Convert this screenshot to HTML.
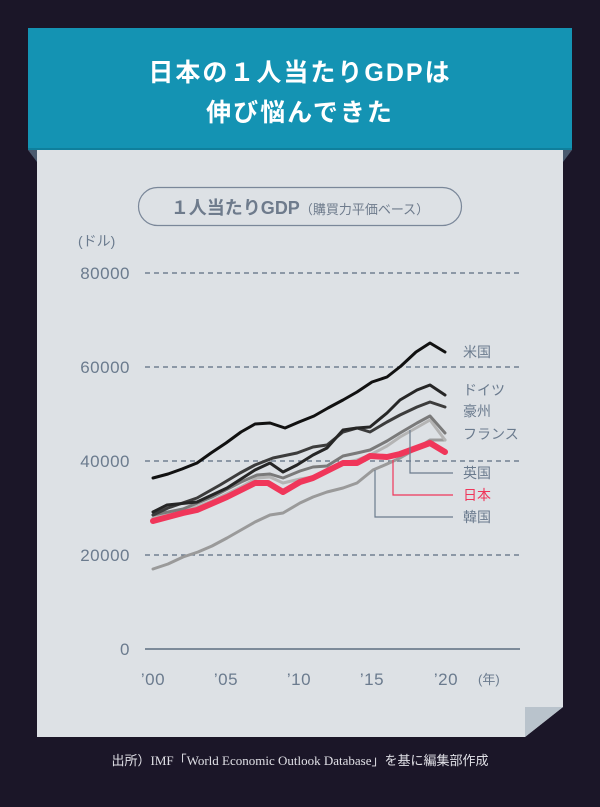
<!DOCTYPE html>
<html><head><meta charset="utf-8"><style>
body{margin:0;background:#1b1628;}
svg text{font-family:"Liberation Sans","Noto Sans CJK JP",sans-serif;}
</style></head><body>
<svg width="600" height="802" viewBox="0 0 600 802" xmlns="http://www.w3.org/2000/svg">
<rect width="600" height="802" fill="#1b1628"/>
<polygon points="28,150 37,150 37,162" fill="#4a5a6e"/>
<polygon points="572,150 563,150 563,162" fill="#4a5a6e"/>
<polygon points="37,150 563,150 563,707 525,737 37,737" fill="#dde1e5"/>
<polygon points="525,707 563,707 525,737" fill="#b9c3cc"/>
<rect x="28" y="28" width="544" height="122" fill="#1493b3"/>
<rect x="28" y="148" width="544" height="2" fill="#0f7f9c"/>
<text x="300" y="81" fill="#fff" font-size="25" font-weight="bold" text-anchor="middle" letter-spacing="2">日本の１人当たりGDPは</text>
<text x="300" y="121" fill="#fff" font-size="25" font-weight="bold" text-anchor="middle" letter-spacing="2">伸び悩んできた</text>
<rect x="138.5" y="187.5" width="323" height="38" rx="19" fill="none" stroke="#7a8799" stroke-width="1.2"/>
<text x="300" y="214" fill="#6e7b8c" font-size="18" font-weight="bold" text-anchor="middle">１人当たりGDP<tspan font-size="13" font-weight="normal">（購買力平価ベース）</tspan></text>
<text x="78" y="246" fill="#6b7b8e" font-size="14">(ドル)</text>
<g stroke="#5d6d80" stroke-width="1.2" stroke-dasharray="5,4">
<line x1="145" y1="273" x2="520" y2="273"/><line x1="145" y1="367" x2="520" y2="367"/>
<line x1="145" y1="461" x2="520" y2="461"/><line x1="145" y1="555" x2="520" y2="555"/>
</g>
<line x1="145" y1="649" x2="520" y2="649" stroke="#5d6d80" stroke-width="1.5"/>
<g fill="#6b7b8e" font-size="17" text-anchor="end" letter-spacing="0.5">
<text x="130" y="279">80000</text><text x="130" y="373">60000</text><text x="130" y="467">40000</text><text x="130" y="561">20000</text><text x="130" y="655">0</text>
</g>
<g fill="#6b7b8e" font-size="17" text-anchor="middle" letter-spacing="0.5">
<text x="153" y="685">’00</text><text x="226" y="685">’05</text><text x="299" y="685">’10</text><text x="372" y="685">’15</text><text x="446" y="685">’20</text>
</g>
<text x="478" y="684" fill="#6b7b8e" font-size="13">(年)</text>
<g fill="none" stroke-linejoin="round" stroke-linecap="round">
<polyline stroke="#9a9a9a" stroke-width="3" points="153,569 168,564 183,557 198,552 212,546 227,538 241,530 255,522 270,515 283,513 300,503 313,497 327,492 343,488 357,483 373,470 387,464 400,458 416,449 430,440 445,440"/>
<polyline stroke="#b4b4b4" stroke-width="3" points="153,518 183,512 212,501 241,487 257,478 270,477 283,483 300,479 313,477 327,471 343,463 357,460 370,455 387,446 400,437 416,428 430,420 445,440"/>
<polyline stroke="#7a7a7a" stroke-width="3" points="153,515 183,509 212,497 241,482 257,475 270,474 283,478 300,471 313,467 327,466 343,456 357,453 370,450 387,441 400,433 417,423 430,416 445,433"/>
<polyline stroke="#3c3c3c" stroke-width="3" points="153,515 168,508 197,498 220,485 240,473 255,465 273,458 297,453 313,447 327,445 343,432 357,428 370,432 387,422 400,415 417,407 430,402 445,407"/>
<polyline stroke="#262626" stroke-width="3" points="153,512 167,505 197,502 227,488 255,470 270,463 283,472 297,465 313,455 327,448 343,430 357,428 370,427 387,413 400,400 417,390 430,385 445,395"/>
<polyline stroke="#111" stroke-width="3" points="153,478 168,474 182,469 197,463 211,453 226,443 241,432 255,424 270,423 285,428 299,422 314,416 328,408 343,400 357,392 372,382 387,377 401,366 416,352 430,343 445,352"/>
<polyline stroke="#f0365a" stroke-width="6" points="153,521 183,513 197,510 227,497 255,483 268,483 283,492 300,482 313,478 343,463 357,463 370,456 387,457 400,454 430,443 445,452"/>
</g>
<polyline fill="none" stroke="#6b7b8e" stroke-width="1.2" points="410,430 410,473 453,473"/>
<polyline fill="none" stroke="#f0365a" stroke-width="1.2" points="393,460 393,495 453,495"/>
<polyline fill="none" stroke="#6b7b8e" stroke-width="1.2" points="375,470 375,517 453,517"/>
<g fill="#6b7b8e" font-size="14">
<text x="463" y="357">米国</text><text x="463" y="395">ドイツ</text><text x="463" y="416">豪州</text><text x="463" y="439">フランス</text><text x="463" y="478">英国</text><text x="463" y="500" fill="#f0365a">日本</text><text x="463" y="522">韓国</text>
</g>
<text x="300" y="765" fill="#e0e0e6" font-size="13" text-anchor="middle" style="font-family:'Liberation Serif','Noto Sans CJK JP',serif">出所）IMF「World Economic Outlook Database」を基に編集部作成</text>
</svg>
</body></html>
